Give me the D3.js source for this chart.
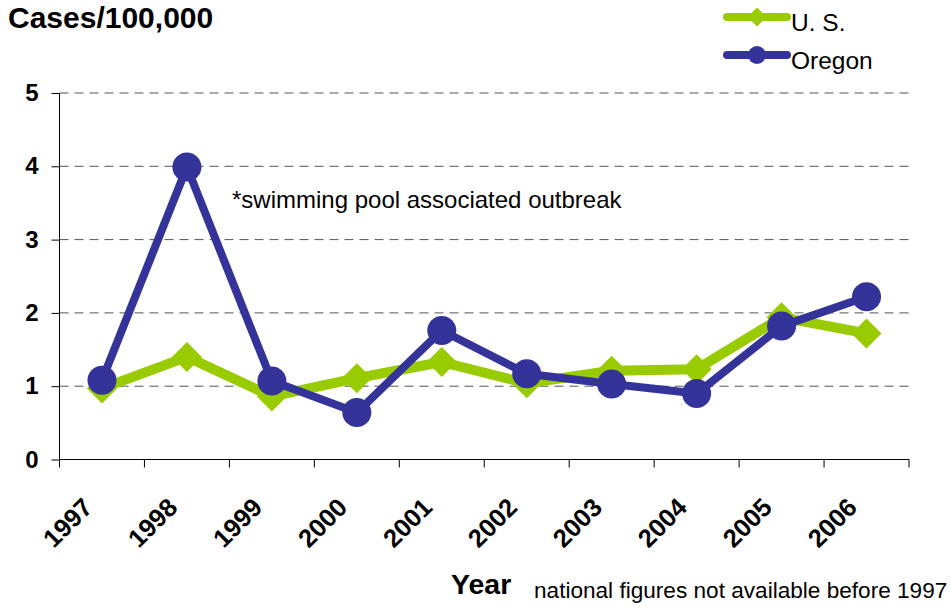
<!DOCTYPE html>
<html>
<head>
<meta charset="utf-8">
<script src="https://cdn.jsdelivr.net/npm/d3@7"></script>
<style>
  html, body { margin: 0; padding: 0; background: #fff; }
  svg { display: block; font-family: "Liberation Sans", Arial, sans-serif; }
</style>
</head>
<body>
<svg id="chart" width="951" height="609"></svg>
<script>
const years = ["1997","1998","1999","2000","2001","2002","2003","2004","2005","2006"];
const usValues = [0.97, 1.40, 0.86, 1.11, 1.33, 1.04, 1.21, 1.23, 1.94, 1.72];
const oregonValues = [1.08, 3.99, 1.07, 0.64, 1.76, 1.17, 1.03, 0.90, 1.82, 2.22];
const yTicks = [0, 1, 2, 3, 4, 5];
const seriesNames = ["U. S.", "Oregon"];

(function () {
const svg = d3.select("#chart");
const pLeft = 59.5, pRight = 909, pTop = 93, pBottom = 459.5;

const x = d3.scaleBand().domain(years).range([pLeft, pRight]).padding(0);
const y = d3.scaleLinear().domain([0, 5]).range([pBottom, pTop]);
const cx = d => x(d) + x.bandwidth() / 2;

const green = "#99CC00", blue = "#333399";

// gridlines
svg.append("g").selectAll("line")
  .data(yTicks.filter(t => t > 0))
  .join("line")
  .attr("x1", pLeft).attr("x2", pRight)
  .attr("y1", d => y(d)).attr("y2", d => y(d))
  .attr("stroke", "#555").attr("stroke-width", 1)
  .attr("stroke-dasharray", "9,6");

// y axis
const yAxis = d3.axisLeft(y).tickValues(yTicks).tickSize(8).tickPadding(13).tickFormat(d3.format("d"));
const gy = svg.append("g").attr("transform", `translate(${pLeft},0)`).call(yAxis);
gy.select(".domain").attr("stroke", "#000").attr("d", `M0,${pTop}V${pBottom}`);
gy.selectAll(".tick line").attr("stroke", "#000");
gy.selectAll(".tick text")
  .attr("font-family", "Liberation Sans, Arial, sans-serif")
  .attr("font-size", 24).attr("font-weight", "bold").attr("fill", "#000");

// x axis (ticks at band boundaries)
const gx = svg.append("g").attr("transform", `translate(0,${pBottom})`);
gx.append("line").attr("x1", pLeft).attr("x2", pRight).attr("y1", 0).attr("y2", 0).attr("stroke", "#000");
const boundaries = years.map(d => x(d)).concat([x(years[years.length-1]) + x.bandwidth()]);
gx.selectAll("line.tk").data(boundaries).join("line").attr("class", "tk")
  .attr("x1", d => d).attr("x2", d => d).attr("y1", 0).attr("y2", 8).attr("stroke", "#000");
gx.selectAll("text").data(years).join("text")
  .attr("transform", d => `translate(${cx(d) - 8},${509 - pBottom}) rotate(-45)`)
  .attr("text-anchor", "end")
  .attr("font-size", 25.5).attr("font-weight", "bold").attr("fill", "#000")
  .text(d => d);

// lines
const lineGen = vals => d3.line().x((d, i) => cx(years[i])).y(d => y(d))(vals);
const diamond = (r) => `M0,${-r}L${r},0L0,${r}L${-r},0Z`;

svg.append("path").attr("d", lineGen(usValues)).attr("fill", "none")
  .attr("stroke", green).attr("stroke-width", 10).attr("stroke-linejoin", "round");
svg.append("g").selectAll("path").data(usValues).join("path")
  .attr("transform", (d, i) => `translate(${cx(years[i])},${y(d)})`)
  .attr("d", diamond(15)).attr("fill", green);

svg.append("path").attr("d", lineGen(oregonValues)).attr("fill", "none")
  .attr("stroke", blue).attr("stroke-width", 8).attr("stroke-linejoin", "round");
svg.append("g").selectAll("circle").data(oregonValues).join("circle")
  .attr("cx", (d, i) => cx(years[i])).attr("cy", d => y(d)).attr("r", 14.5).attr("fill", blue);

// legend
const leg = svg.append("g");
const legItems = [{name: seriesNames[0], color: green, y: 17, shape: "d"}, {name: seriesNames[1], color: blue, y: 55, shape: "c"}];
legItems.forEach(it => {
  leg.append("line").attr("x1", 727).attr("x2", 787).attr("y1", it.y).attr("y2", it.y)
    .attr("stroke", it.color).attr("stroke-width", 8).attr("stroke-linecap", "round");
  if (it.shape === "d") {
    leg.append("path").attr("transform", `translate(757,${it.y})`).attr("d", diamond(9.5)).attr("fill", it.color);
  } else {
    leg.append("circle").attr("cx", 757).attr("cy", it.y).attr("r", 9).attr("fill", it.color);
  }
  leg.append("text").attr("x", 791).attr("y", it.y + 13.5).attr("font-size", 24.5).attr("fill", "#000").text(it.name);
});

// texts
svg.append("text").attr("x", 8).attr("y", 28).attr("font-size", 30).attr("font-weight", "bold").text("Cases/100,000");
svg.append("text").attr("x", 232).attr("y", 208).attr("font-size", 24).text("*swimming pool associated outbreak");
svg.append("text").attr("x", 451).attr("y", 594).attr("font-size", 28.5).attr("font-weight", "bold").text("Year");
svg.append("text").attr("x", 534).attr("y", 598).attr("font-size", 22.6).text("national figures not available before 1997");
})();
</script>
</body>
</html>
